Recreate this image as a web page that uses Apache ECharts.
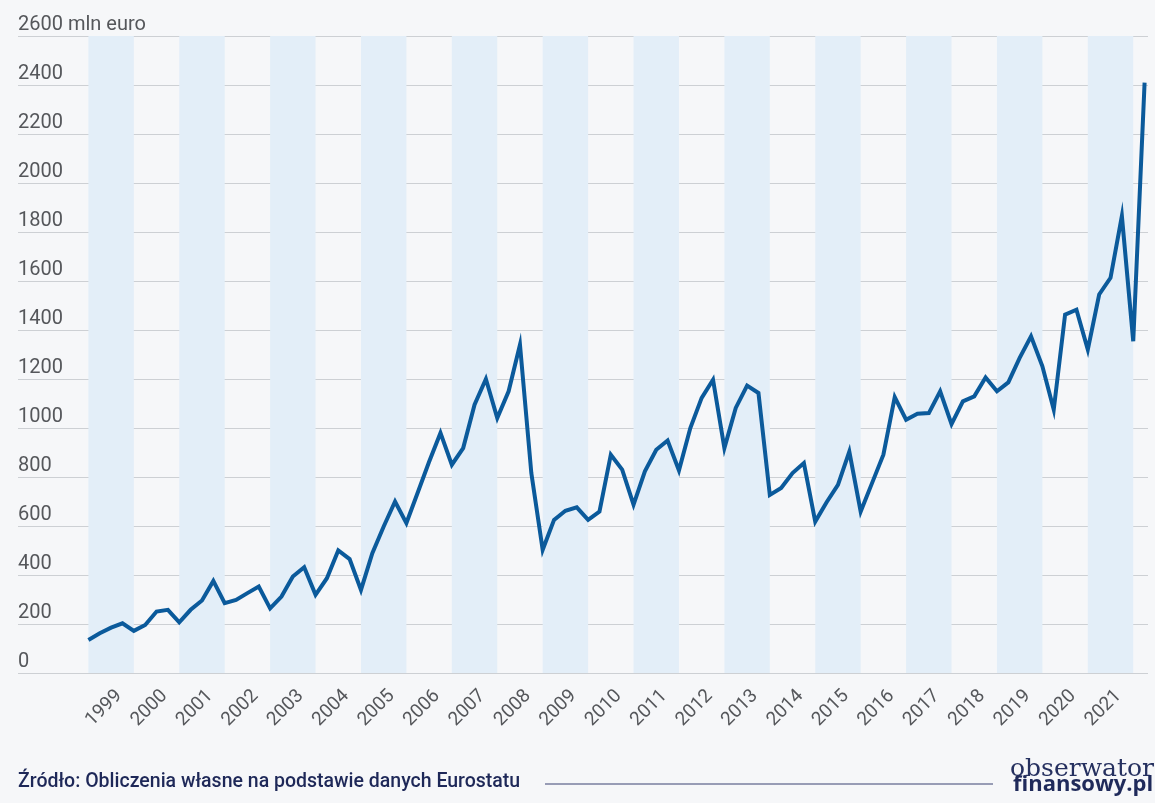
<!DOCTYPE html>
<html>
<head>
<meta charset="utf-8">
<script src="https://cdn.jsdelivr.net/npm/echarts@6/dist/echarts.min.js"></script>
<style>
html,body{margin:0;padding:0;background:#f6f7f9;}
#c{width:1155px;height:803px;}
</style>
</head>
<body>
<div id="c"></div>
<script>
// Year labels (each year = 4 quarterly points)
const years = ['1999','2000','2001','2002','2003','2004','2005','2006','2007','2008','2009','2010',
  '2011','2012','2013','2014','2015','2016','2017','2018','2019','2020','2021'];
// Shaded years
const bandYears = ['1999','2001','2003','2005','2007','2009','2011','2013','2015','2017','2019','2021'];
// Quarterly values, mln euro (1999 Q1 ... 2022 Q2)
const values = [
  135, 162, 185, 203,   172, 196, 251, 258,   207, 258, 296, 376,
  285, 298, 326, 353,   264, 312, 394, 432,   319, 387, 500, 465,
  339, 489, 598, 700,   612, 737, 862, 980,   850, 918, 1095, 1200,
  1041, 1150, 1340, 816, 503, 625, 662, 676,  625, 659, 891, 830,
  687, 823, 911, 949,   827, 1000, 1123, 1197, 918, 1082, 1173, 1143,
  727, 755, 816, 857,   618, 697, 768, 904,   659, 775, 891, 1126,
  1034, 1058, 1061, 1150, 1016, 1109, 1129, 1206, 1150, 1186, 1286, 1374,
  1252, 1075, 1463, 1483, 1320, 1545, 1613, 1865, 1354, 2410
];

const seriesData = values.map((v, i) => [i, v]);
const yearStart = y => years.indexOf(y) * 4;
const bands = bandYears.map(y => [{xAxis: yearStart(y)}, {xAxis: yearStart(y) + 4}]);
const LABEL_OFFSET = 2.7;
const labelPos = years.map((y, i) => i * 4 + LABEL_OFFSET);

const chart = echarts.init(document.getElementById('c'), null, {renderer: 'canvas'});
chart.setOption({
  backgroundColor: '#f6f7f9',
  animation: false,
  grid: {left: 18, right: 7, top: 36, bottom: 130, outerBoundsMode: 'none'},
  xAxis: {
    type: 'value', min: -6.2, max: 93.3,
    axisLine: {show: false}, axisTick: {show: false}, splitLine: {show: false},
    axisLabel: {
      customValues: labelPos,
      formatter: v => years[Math.round((v - LABEL_OFFSET) / 4)],
      rotate: 45, margin: 20,
      color: '#55575b', fontFamily: 'Roboto', fontSize: 19
    }
  },
  yAxis: {
    type: 'value', min: 0, max: 2600, interval: 200,
    axisLine: {show: false}, axisTick: {show: false},
    splitLine: {lineStyle: {color: '#cdd0d4', width: 1.2}},
    axisLabel: {
      inside: true, margin: 0, align: 'left', verticalAlign: 'bottom',
      padding: [0, 0, 1, 0],
      color: '#55575b', fontFamily: 'Roboto', fontSize: 20,
      formatter: v => v === 2600 ? '2600 mln euro' : String(v)
    }
  },
  series: [
    {
      type: 'line', data: seriesData, z: -1, symbol: 'none', silent: true,
      lineStyle: {width: 0, opacity: 0},
      markArea: {silent: true, itemStyle: {color: '#e3eef8'}, data: bands}
    },
    {
      type: 'line', data: seriesData, symbol: 'none', z: 5,
      lineStyle: {color: '#0b5a9b', width: 4, join: 'miter'}
    }
  ],
  graphic: [
    {type: 'text', left: 18, top: 772,
     style: {text: 'Źródło: Obliczenia własne na podstawie danych Eurostatu',
       fill: '#1e2858', font: '500 19.5px Roboto'}},
    {type: 'line', shape: {x1: 545, y1: 784, x2: 993, y2: 784},
     style: {stroke: '#3a4272', lineWidth: 1}},
    {type: 'text', left: 1010, top: 757,
     style: {text: 'obserwator', fill: '#25305f', font: '500 25px "DejaVu Serif"'}},
    {type: 'text', left: 1013, top: 774,
     style: {text: 'finansowy.pl', fill: '#1f2a5a', font: 'bold 22px "Open Sans"'}}
  ]
});
</script>
</body>
</html>
